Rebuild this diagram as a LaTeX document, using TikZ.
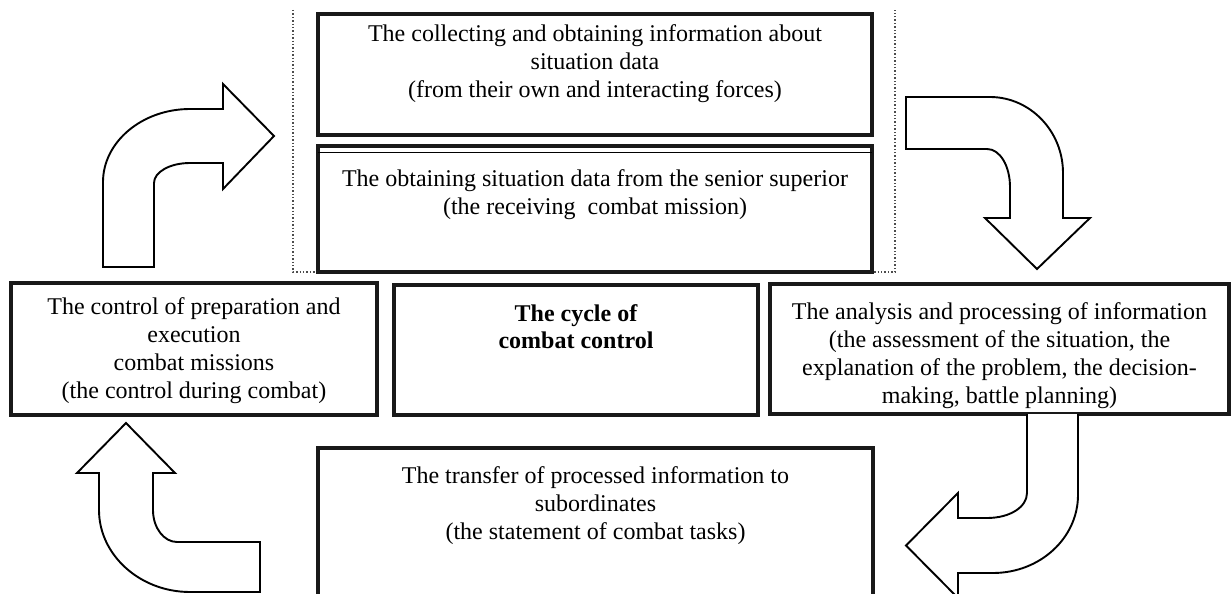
\documentclass[tikz,border=0pt]{standalone}
\usepackage{fontspec}
\setmainfont{Liberation Serif}
\begin{document}
\begin{tikzpicture}[x=1pt,y=-1pt,
  box/.style={draw=black!90, line width=3.4pt, inner sep=0pt, outer sep=0pt},
  txt/.style={inner sep=0pt, align=center, anchor=north, font=\fontsize{24}{28}\selectfont},
  bentarrow/.style={draw=black, line width=1.9pt, fill=white, line join=miter},
  frame/.style={draw=black!70, dotted, line width=1.4pt}]
\useasboundingbox (0,0) rectangle (1232,594);
\clip (0,0) rectangle (1232,594);
% dotted frame
\coordinate (fa) at (293,10);
\coordinate (fb) at (293,272);
\coordinate (fc) at (895,272);
\coordinate (fd) at (895,10);
\draw[frame] (fa) -- (fb) -- (fc) -- (fd);
% boxes
\node[box, minimum width=554pt, minimum height=121pt] (b1) at (595,74.5) {};
\node[box, minimum width=554pt, minimum height=126pt] (b2) at (595,209) {};
\draw[line width=1pt] ([yshift=-6pt]b2.north west) -- ([yshift=-6pt]b2.north east);
\node[box, minimum width=366pt, minimum height=132pt] (bl) at (194,349) {};
\node[box, minimum width=364pt, minimum height=130pt] (bc) at (576,350) {};
\node[box, minimum width=459pt, minimum height=130pt] (br) at (999.5,349) {};
\node[box, minimum width=555pt, minimum height=200pt] (bb) at (595.5,548) {};
% texts
\node[txt] (t1) at (595,24) {The collecting and obtaining information about\\situation data\\(from their own and interacting forces)};
\node[txt] (t2) at (595,169) {The obtaining situation data from the senior superior\\(the receiving\ \ combat mission)};
\node[txt] (tl) at (194,297) {The control of preparation and\\execution\\combat missions\\(the control during combat)};
\node[txt, font=\bfseries\fontsize{24}{27}\selectfont] (tc) at (576,304) {The cycle of\\combat control};
\node[txt] (tr) at (999.5,302) {The analysis and processing of information\\(the assessment of the situation, the\\explanation of the problem, the decision-\\making, battle planning)};
\node[txt] (tb) at (595.5,466) {The transfer of processed information to\\subordinates\\(the statement of combat tasks)};
% arrow top-left (up then right)
\draw[bentarrow] (103,267) -- (103,182) .. controls (103,142) and (142,109) .. (190,109)
  -- (223,109) -- (223,84) -- (274,136) -- (223,189) -- (223,163) -- (190,163)
  .. controls (170,163) and (154,172) .. (154,183) -- (154,267) -- cycle;
% arrow top-right (right then down)
\draw[bentarrow] (906,97) -- (990,97) .. controls (1030,97) and (1063,131) .. (1063,173)
  -- (1063,218) -- (1090,218) -- (1037,269) -- (985,218) -- (1010,218) -- (1010,187)
  .. controls (1010,166) and (1000,149) .. (987,149) -- (906,149) -- cycle;
% arrow bottom-right (down then left)
\draw[bentarrow] (1027,414) -- (1027,493) .. controls (1027,507) and (1010,518) .. (987,518)
  -- (958,518) -- (958,493) -- (906,545.5) -- (958,598) -- (958,573) -- (993,573)
  .. controls (1040,573) and (1078,538) .. (1078,495) -- (1078,414);
% arrow bottom-left (left then up)
\draw[bentarrow] (260,542) -- (177,542) .. controls (164,542) and (153,528) .. (153,510)
  -- (153,473) -- (175,473) -- (126,423) -- (77,473) -- (99,473) -- (99,510)
  .. controls (99,555) and (140,592) .. (190,592) -- (260,592) -- cycle;
\end{tikzpicture}
\end{document}
